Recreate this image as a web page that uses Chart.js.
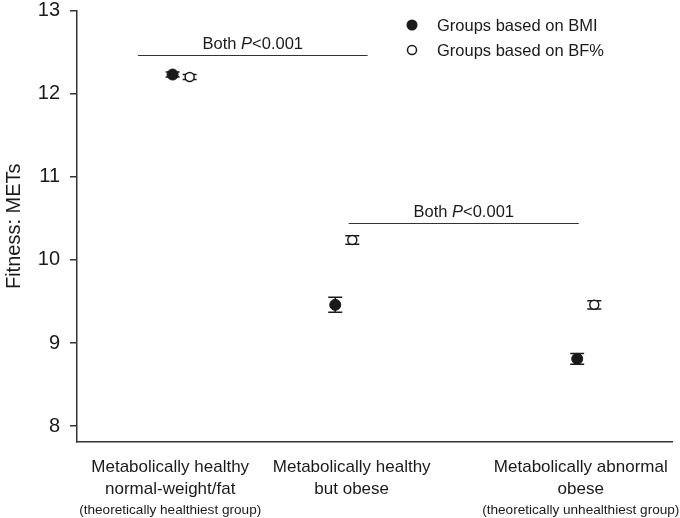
<!DOCTYPE html>
<html>
<head>
<meta charset="utf-8">
<script src="https://cdn.jsdelivr.net/npm/chart.js@4.4.1/dist/chart.umd.min.js"></script>
<style>
  html, body { margin: 0; padding: 0; background: #fff; }
  #wrap { width: 680px; height: 518px; }
</style>
</head>
<body>
<div id="wrap"><canvas id="grafico" width="680" height="518"></canvas></div>
<script>
// categories (three text lines each)
const categorias = [
  ['Metabolically healthy', 'normal-weight/fat', '(theoretically healthiest group)'],
  ['Metabolically healthy', 'but obese', ''],
  ['Metabolically abnormal', 'obese', '(theoretically unhealthiest group)']
];
// where each group sits on the (hidden) x axis, 0..60
const grupoX = [10.5, 26.9, 51.3];
const rotuloX = [9.4, 27.7, 50.8];

// fitness in METs, mean and error
const bmiMedia = [12.23, 9.46, 8.81];
const bmiErro = [0.03, 0.09, 0.065];
const bfMedia = [12.20, 10.24, 9.46];
const bfErro = [0.03, 0.05, 0.05];

const yTicks = [8, 9, 10, 11, 12, 13];

// significance brackets
const chaveDe = [6.15, 27.4];
const chaveAte = [29.3, 50.6];
const chaveY = [12.47, 10.44];
const chaveTexto = ['Both ', 'P', '<0.001'];

const legendas = ['Groups based on BMI', 'Groups based on BF%'];

const FONTE = "'Liberation Sans', Arial, Helvetica, sans-serif";
const TINTA = '#1a1a1a';
const DESLOC = 0.86;

Chart.defaults.font.family = FONTE;
Chart.defaults.color = TINTA;

const pontosBmi = bmiMedia.map((v, i) => ({ x: grupoX[i] - DESLOC, y: v }));
const pontosBf = bfMedia.map((v, i) => ({ x: grupoX[i] + DESLOC, y: v }));

const extras = {
  id: 'extras',
  beforeDatasetsDraw(chart) {
    const ctx = chart.ctx;
    const xs = chart.scales.x, ys = chart.scales.y;
    const series = [[pontosBmi, bmiErro], [pontosBf, bfErro]];
    ctx.save();
    ctx.strokeStyle = TINTA;
    ctx.lineWidth = 1.5;
    series.forEach(([pts, err]) => {
      pts.forEach((p, i) => {
        const x = xs.getPixelForValue(p.x);
        const y1 = ys.getPixelForValue(p.y + err[i]);
        const y2 = ys.getPixelForValue(p.y - err[i]);
        ctx.beginPath();
        ctx.moveTo(x, y1); ctx.lineTo(x, y2);
        ctx.moveTo(x - 7, y1); ctx.lineTo(x + 7, y1);
        ctx.moveTo(x - 7, y2); ctx.lineTo(x + 7, y2);
        ctx.stroke();
      });
    });
    ctx.restore();
  },
  afterDraw(chart) {
    const ctx = chart.ctx;
    const xs = chart.scales.x, ys = chart.scales.y;
    ctx.save();
    ctx.fillStyle = TINTA;
    ctx.strokeStyle = '#333';
    ctx.lineWidth = 1.2;

    // brackets with "Both P<0.001"
    chaveY.forEach((v, i) => {
      const x1 = xs.getPixelForValue(chaveDe[i]);
      const x2 = xs.getPixelForValue(chaveAte[i]);
      const y = Math.round(ys.getPixelForValue(v)) + 0.5;
      ctx.beginPath();
      ctx.moveTo(x1, y); ctx.lineTo(x2, y);
      ctx.stroke();

      const normal = '16.5px ' + FONTE;
      const italico = 'italic 16.5px ' + FONTE;
      ctx.font = normal;
      const w0 = ctx.measureText(chaveTexto[0]).width;
      const w2 = ctx.measureText(chaveTexto[2]).width;
      ctx.font = italico;
      const w1 = ctx.measureText(chaveTexto[1]).width;
      let x = (x1 + x2) / 2 - (w0 + w1 + w2) / 2;
      ctx.textBaseline = 'middle';
      ctx.textAlign = 'left';
      const ty = y - 11;
      ctx.font = normal; ctx.fillText(chaveTexto[0], x, ty); x += w0;
      ctx.font = italico; ctx.fillText(chaveTexto[1], x, ty); x += w1;
      ctx.font = normal; ctx.fillText(chaveTexto[2], x, ty);
    });

    // legend
    ctx.font = '16.5px ' + FONTE;
    ctx.textBaseline = 'middle';
    ctx.textAlign = 'left';
    legendas.forEach((t, i) => {
      const y = 25 + i * 25;
      ctx.beginPath();
      if (i === 0) {
        ctx.arc(412, y, 5.5, 0, Math.PI * 2);
        ctx.fill();
      } else {
        ctx.arc(412, y, 4.5, 0, Math.PI * 2);
        ctx.fillStyle = '#fff';
        ctx.fill();
        ctx.lineWidth = 1.5;
        ctx.strokeStyle = TINTA;
        ctx.stroke();
        ctx.fillStyle = TINTA;
      }
      ctx.fillText(t, 437, y + 1);
    });

    // category labels under the axis
    ctx.textAlign = 'center';
    categorias.forEach((linhas, i) => {
      const x = xs.getPixelForValue(rotuloX[i]);
      ctx.font = '17px ' + FONTE;
      ctx.fillText(linhas[0], x, 467);
      ctx.fillText(linhas[1], x, 489);
      ctx.font = '13.6px ' + FONTE;
      ctx.fillText(linhas[2], x, 510);
    });
    ctx.restore();
  }
};

new Chart(document.getElementById('grafico').getContext('2d'), {
  type: 'scatter',
  data: {
    datasets: [
      {
        label: legendas[0],
        data: pontosBmi,
        pointRadius: 5.5,
        pointBackgroundColor: TINTA,
        pointBorderColor: TINTA,
        pointBorderWidth: 1
      },
      {
        label: legendas[1],
        data: pontosBf,
        pointRadius: 4.5,
        pointBackgroundColor: '#fff',
        pointBorderColor: TINTA,
        pointBorderWidth: 1.5
      }
    ]
  },
  options: {
    responsive: false,
    animation: false,
    layout: { padding: { top: 0, right: 8, left: 0, bottom: 0 } },
    plugins: {
      legend: { display: false },
      tooltip: { enabled: false }
    },
    scales: {
      x: {
        type: 'linear',
        min: 0,
        max: 60,
        ticks: { display: false },
        grid: { display: false },
        border: { display: true, color: '#333', width: 1.5 },
        afterFit(scale) { scale.height = 76; }
      },
      y: {
        min: 7.81,
        max: 13,
        afterBuildTicks(scale) { scale.ticks = yTicks.map(v => ({ value: v })); },
        ticks: {
          font: { size: 20, lineHeight: 0.05 },
          color: TINTA,
          padding: 10
        },
        grid: {
          display: true,
          drawOnChartArea: false,
          drawTicks: true,
          tickLength: 7,
          color: '#333',
          lineWidth: 1.5
        },
        border: { display: true, color: '#333', width: 1.5 },
        title: {
          display: true,
          text: 'Fitness: METs',
          font: { size: 20, lineHeight: 1.2 },
          color: TINTA,
          padding: { top: 2, bottom: 0 }
        },
        afterFit(scale) { scale.width = 77; }
      }
    }
  },
  plugins: [extras]
});
</script>
</body>
</html>
